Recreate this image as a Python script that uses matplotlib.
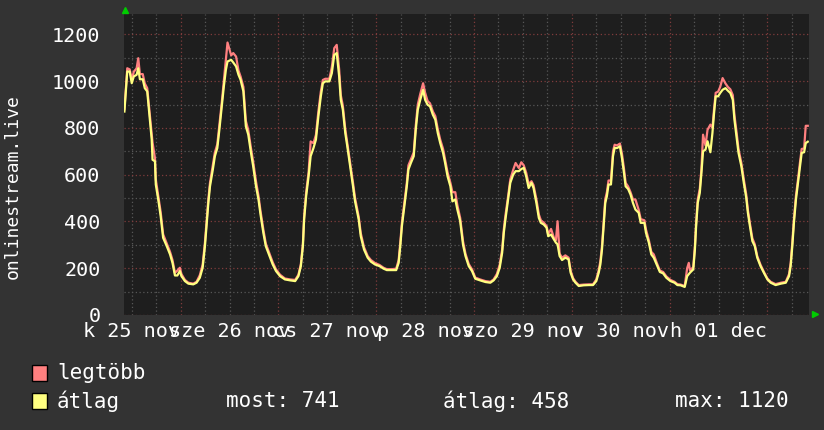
import matplotlib
matplotlib.use("Agg")
import matplotlib.pyplot as plt
from matplotlib.patches import Rectangle

plt.rcParams['font.family'] = ['DejaVu Sans Mono', 'DejaVu Sans']

# -------------------------
# DATA (hours since 25 nov 00:00)
# -------------------------
hours = [
    -13.8, -13.1, -12.5, -12.0, -11.5, -10.8, -10.4, -10.0, -9.3, -8.8, -8.2, -7.7, -7.1, -6.9, -6.3,
    -6.1, -5.5, -4.9, -4.3, -3.4, -2.6, -2.0, -1.4, -0.8, -0.2, 0.2, 1.05, 1.9, 3.1, 3.9,
    4.7, 5.4, 5.96, 6.4, 6.8, 7.2, 7.9, 8.4, 9.0, 9.5, 10.1, 10.6, 11.1, 11.5, 12.4,
    12.9, 13.6, 14.2, 14.7, 15.4, 16.0, 16.6, 17.2, 17.8, 18.5, 19.1, 19.6, 20.3, 20.9, 21.8,
    22.6, 23.4, 24.4, 25.6, 26.9, 28.1, 28.9, 29.5, 30.0, 30.3, 30.8, 31.4, 31.9, 32.6, 33.2,
    33.8, 34.4, 34.9, 35.5, 36.5, 37.1, 37.7, 38.3, 38.9, 39.3, 39.8, 40.4, 40.9, 41.6, 42.3,
    42.8, 43.7, 44.2, 45.0, 45.9, 46.7, 47.7, 48.8, 49.8, 50.6, 51.8, 52.9, 53.5, 53.9, 54.3,
    54.9, 55.5, 55.9, 56.5, 57.2, 57.7, 58.2, 58.8, 59.5, 60.0, 60.6, 61.2, 61.9, 62.5, 63.1,
    63.7, 64.4, 64.9, 65.5, 66.2, 66.7, 67.4, 67.9, 68.6, 69.3, 69.9, 70.7, 71.5, 72.3, 73.5,
    74.8, 76.0, 76.8, 77.6, 78.3, 78.9, 79.3, 79.7, 80.3, 80.9, 81.6, 82.2, 83.0, 83.6, 84.2,
    84.8, 85.4, 86.1, 86.6, 87.3, 87.9, 88.4, 89.1, 89.8, 90.2, 90.9, 91.6, 92.1, 92.5, 93.0,
    93.6, 94.4, 95.2, 95.7, 96.3, 96.9, 97.7, 98.9, 100.2, 101.2, 102.0, 102.6, 103.0, 103.4, 103.8,
    104.2, 104.6, 105.0, 105.6, 106.1, 106.5, 107.1, 107.8, 108.3, 108.8, 109.2, 109.8, 110.4, 111.0, 111.6,
    112.4, 112.9, 113.8, 114.2, 114.9, 115.5, 116.1, 116.8, 117.6, 118.4, 119.2, 120.2, 121.2, 121.9, 122.7,
    123.7, 124.3, 124.7, 125.0, 125.8, 126.2, 126.5, 126.9, 127.4, 127.8, 128.2, 128.8, 129.3, 130.0, 130.5,
    130.9, 131.3, 131.9, 132.4, 133.0, 133.7, 134.3, 134.9, 135.5, 135.9, 136.4, 136.9, 137.6, 138.2, 138.8,
    139.2, 139.7, 140.3, 140.9, 141.5, 142.3, 143.2, 144.0, 144.8, 146.0, 147.3, 148.5, 149.3, 149.7, 150.1,
    150.5, 151.0, 151.5, 152.0, 152.4, 153.0, 153.4, 153.9,
]

atlag = [
    870, 1041, 1041, 991, 1020, 1027, 1055, 1008, 1008, 970, 956, 863, 750, 664, 657,
    558, 494, 422, 330, 294, 259, 223, 169, 169, 188, 166, 145, 134, 131, 138,
    159, 202, 294, 394, 479, 550, 622, 679, 714, 792, 892, 977, 1048, 1084, 1091,
    1080, 1063, 1027, 1006, 956, 807, 771, 700, 636, 550, 494, 430, 351, 294, 252,
    216, 188, 166, 152, 148, 145, 166, 209, 294, 408, 508, 593, 679, 714, 750,
    849, 935, 991, 999, 999, 1034, 1112, 1120, 1020, 920, 878, 778, 721, 636, 550,
    486, 408, 337, 280, 245, 228, 216, 209, 198, 192, 192, 192, 223, 294, 380,
    465, 550, 622, 650, 679, 792, 878, 920, 963, 920, 899, 892, 856, 835, 778,
    735, 693, 650, 593, 550, 486, 494, 451, 401, 300, 252, 209, 188, 155, 148,
    141, 138, 148, 166, 202, 266, 351, 408, 486, 565, 600, 615, 615, 624, 629,
    593, 543, 565, 543, 479, 415, 394, 387, 373, 337, 344, 323, 309, 302, 252,
    235, 245, 238, 181, 152, 138, 124, 127, 128, 128, 145, 181, 216, 280, 380,
    479, 508, 558, 558, 679, 714, 714, 721, 671, 607, 550, 539, 515, 479, 451,
    437, 394, 394, 351, 309, 259, 245, 216, 184, 178, 159, 145, 138, 128, 127,
    120, 166, 175, 181, 195, 280, 380, 479, 522, 607, 700, 707, 743, 696, 778,
    863, 935, 935, 949, 963, 970, 959, 949, 920, 835, 764, 693, 636, 565, 501,
    437, 380, 316, 294, 245, 209, 178, 152, 138, 128, 134, 138, 166, 209, 294,
    394, 494, 565, 636, 693, 696, 735, 741,
]

legtobb = [
    880, 1055, 1050, 1005, 1040, 1055, 1098, 1030, 1030, 990, 970, 880, 770, 738, 670,
    580, 510, 440, 345, 305, 270, 235, 180, 190, 202, 175, 150, 138, 134, 142,
    170, 215, 310, 410, 495, 565, 640, 695, 730, 810, 910, 1000, 1090, 1165, 1110,
    1120, 1105, 1045, 1020, 975, 830, 790, 720, 655, 570, 510, 445, 365, 305, 262,
    225, 195, 172, 156, 152, 150, 172, 218, 305, 420, 525, 610, 742, 735, 770,
    870, 955, 1005, 1010, 1010, 1060, 1141, 1155, 1050, 940, 895, 795, 735, 650, 565,
    500, 420, 350, 290, 252, 235, 222, 214, 202, 196, 196, 198, 235, 310, 395,
    480, 565, 640, 665, 695, 810, 900, 945, 991, 950, 915, 905, 870, 850, 795,
    750, 710, 665, 610, 565, 525, 525, 470, 415, 315, 262, 218, 195, 160, 152,
    145, 142, 152, 175, 215, 280, 365, 425, 500, 580, 620, 650, 628, 653, 640,
    608, 560, 572, 555, 495, 430, 405, 395, 380, 345, 368, 330, 320, 401, 262,
    245, 255, 245, 190, 158, 142, 128, 130, 131, 131, 152, 192, 230, 295, 395,
    495, 525, 575, 575, 700, 728, 725, 733, 690, 625, 565, 550, 525, 494, 494,
    450, 410, 405, 365, 320, 270, 259, 225, 190, 184, 165, 150, 142, 132, 130,
    124, 200, 223, 190, 205, 295, 395, 495, 540, 625, 771, 725, 792, 814, 800,
    880, 950, 955, 975, 1013, 990, 975, 965, 940, 855, 785, 710, 650, 580, 515,
    450, 392, 328, 302, 252, 215, 182, 156, 142, 132, 138, 142, 175, 222, 310,
    410, 510, 580, 655, 710, 712, 809, 809,
]

day_labels = ["k 25 nov", "sze 26 nov", "cs 27 nov", "p 28 nov", "szo 29 nov", "v 30 nov", "h 01 dec"]
label_hours = [-12, 12, 36, 60, 84, 108, 132]
stats = [("most:", 741), ("átlag:", 458), ("max:", 1120)]

# -------------------------
# FIGURE
# -------------------------
W, H = 824, 430
fig = plt.figure(figsize=(W / 100, H / 100), dpi=100, facecolor="#333333")
ax = fig.add_axes([124 / W, (H - 315) / H, (809 - 124) / W, (315 - 14) / H])
ax.set_facecolor("#1e1e1e")

ax.set_xlim(-13.9, 154.2)
ax.set_ylim(0, 1287)

# grid: grey every 6h / 100, red every day / 200
ax.set_xticks(range(0, 154, 24))
ax.set_xticks(range(-12, 155, 6), minor=True)
ax.set_yticks(range(0, 1201, 200))
ax.set_yticks(range(100, 1201, 200), minor=True)
ax.grid(which="minor", color="#575757", linestyle=(0, (1, 2)), linewidth=0.9)
ax.grid(which="major", color="#7f3c3c", linestyle=(0, (1, 2)), linewidth=0.9)
ax.set_axisbelow(True)

for s in ax.spines.values():
    s.set_visible(False)
ax.tick_params(which="both", length=0)
ax.tick_params(axis="y", colors="white", labelsize=14.5, pad=17)
ax.set_xticklabels([])

# day labels (centered, overlapping like the original)
for h, lab in zip(label_hours, day_labels):
    ax.text(h, -0.055, lab, transform=ax.get_xaxis_transform(), ha="center", va="center",
            color="white", fontsize=14.5, clip_on=False)

ax.plot(hours, legtobb, color="#ff8080", linewidth=1.6, zorder=3)
ax.plot(hours, atlag, color="#ffff80", linewidth=1.6, zorder=4)

fig.text(13 / W, 1 - 187 / H, "onlinestream.live", rotation=90, ha="center", va="center",
         color="white", fontsize=13)

# green arrows at axis ends
fig.add_artist(plt.Line2D([125 / W], [1 - 10 / H], marker="^", markersize=5, color="#00cc00",
                          transform=fig.transFigure))
fig.add_artist(plt.Line2D([815 / W], [1 - 314 / H], marker=">", markersize=5, color="#00cc00",
                          transform=fig.transFigure))

# -------------------------
# LEGEND
# -------------------------
for y, col, name in [(373, "#ff8080", "legtöbb"), (401, "#ffff80", "átlag")]:
    fig.add_artist(Rectangle((32 / W, 1 - (y + 8) / H), 15 / W, 16 / H, facecolor=col,
                             edgecolor="black", linewidth=1, transform=fig.transFigure))
    fig.text(57 / W, 1 - y / H, name, ha="left", va="center", color="white", fontsize=15)

for x, (k, v) in zip([226, 443, 675], stats):
    fig.text(x / W, 1 - 401 / H, f"{k} {v}", ha="left", va="center", color="white", fontsize=15)

fig.savefig("out.png", dpi=100, facecolor=fig.get_facecolor())
